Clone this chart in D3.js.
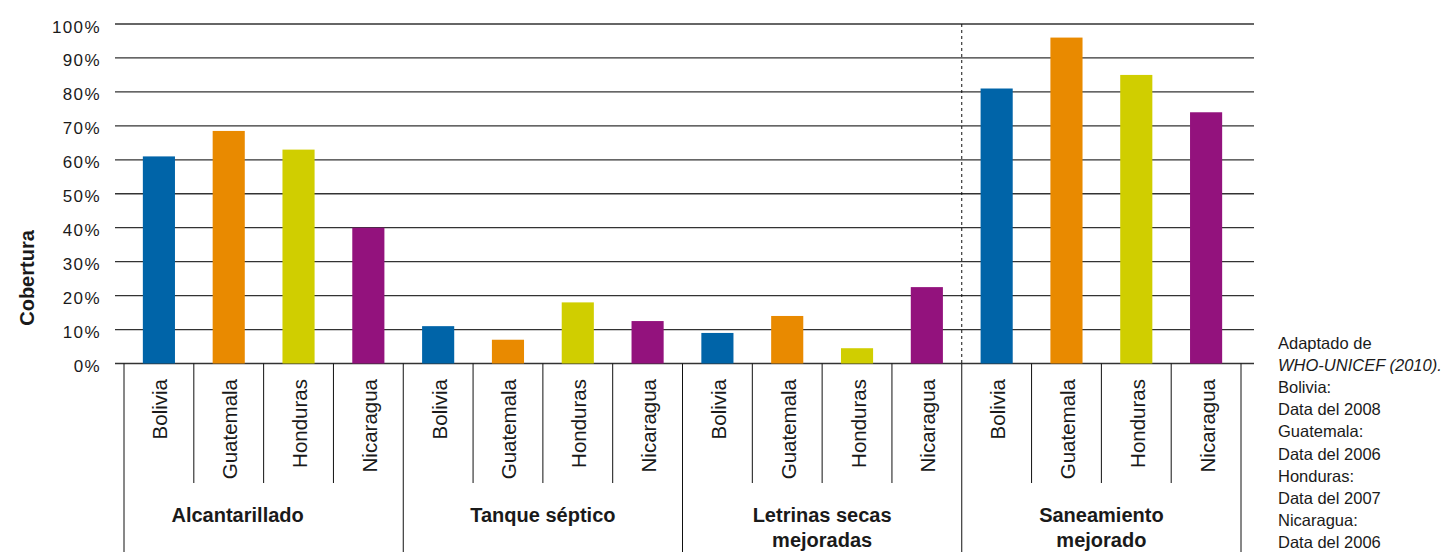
<!DOCTYPE html>
<html>
<head>
<meta charset="utf-8">
<script src="https://cdn.jsdelivr.net/npm/d3@7"></script>
<style>
  body { margin: 0; background: #fff; }
  svg { display: block; font-family: "Liberation Sans", Arial, sans-serif; }
</style>
</head>
<body>
<div id="chart"></div>
<script>
const groups = ["Alcantarillado", "Tanque séptico", "Letrinas secas mejoradas", "Saneamiento mejorado"];
const groupLines = [["Alcantarillado"], ["Tanque séptico"], ["Letrinas secas", "mejoradas"], ["Saneamiento", "mejorado"]];
const countries = ["Bolivia", "Guatemala", "Honduras", "Nicaragua"];
const bolivia = [61, 11, 9, 81];
const guatemala = [68.5, 7, 14, 96];
const honduras = [63, 18, 4.5, 85];
const nicaragua = [40, 12.5, 22.5, 74];
const yTicks = [0, 10, 20, 30, 40, 50, 60, 70, 80, 90, 100];
const noteLines = ["Adaptado de", "WHO-UNICEF (2010).", "Bolivia:", "Data del 2008", "Guatemala:", "Data del 2006", "Honduras:", "Data del 2007", "Nicaragua:", "Data del 2006"];

const colors = ["#0064a8", "#e98a00", "#d0ce00", "#93127d"];
const series = [bolivia, guatemala, honduras, nicaragua];

const W = 1441, H = 552;
const gridLeft = 115, gridRight = 1254;
const svg = d3.select("#chart").append("svg").attr("width", W).attr("height", H);

const y = d3.scaleLinear().domain([0, 100]).range([363.5, 24]);
const x0 = d3.scaleBand().domain(groups).range([124, 1241]);
const x1 = d3.scaleBand().domain(countries).range([0, x0.bandwidth()])
  .paddingInner(0.54).paddingOuter(0.27);
const color = d3.scaleOrdinal().domain(countries).range(colors);

// gridlines
svg.append("g").selectAll("line").data(yTicks).enter().append("line")
  .attr("x1", gridLeft).attr("x2", gridRight)
  .attr("y1", d => y(d)).attr("y2", d => y(d))
  .attr("stroke", "#333").attr("stroke-width", 1.3);

// y tick labels
svg.append("g").selectAll("text").data(yTicks).enter().append("text")
  .attr("x", 101).attr("y", d => y(d) + 8.5)
  .attr("text-anchor", "end").attr("font-size", 17).attr("letter-spacing", 1.4)
  .attr("fill", "#1a1a1a")
  .text(d => d + "%");

svg.append("text")
  .attr("transform", "translate(34,278) rotate(-90)")
  .attr("text-anchor", "middle").attr("font-size", 20).attr("font-weight", "bold")
  .attr("fill", "#1a1a1a").text("Cobertura");

// bars
const rows = [];
groups.forEach((g, gi) => countries.forEach((c, ci) => rows.push({ g, c, v: series[ci][gi] })));
svg.append("g").selectAll("rect").data(rows).enter().append("rect")
  .attr("x", d => x0(d.g) + x1(d.c))
  .attr("width", x1.bandwidth())
  .attr("y", d => y(d.v))
  .attr("height", d => y(0) - y(d.v))
  .attr("fill", d => color(d.c));

// dashed separator before last group
const lastX = x0(groups[3]);
svg.append("line").attr("x1", lastX).attr("x2", lastX)
  .attr("y1", y(100)).attr("y2", y(0))
  .attr("stroke", "#111").attr("stroke-width", 1).attr("stroke-dasharray", "3,3");

// axis bottom separators
const sep = svg.append("g").attr("stroke", "#111").attr("stroke-width", 1);
groups.concat([null]).forEach((g, gi) => {
  const gx = g ? x0(g) : x0.range()[1];
  sep.append("line").attr("x1", gx).attr("x2", gx).attr("y1", y(0)).attr("y2", H);
  if (g) {
    countries.slice(1).forEach(c => {
      const sx = x0(g) + x1(c) - x1.step() * x1.paddingInner() / 2;
      sep.append("line").attr("x1", sx).attr("x2", sx).attr("y1", y(0)).attr("y2", 483);
    });
  }
});

// country labels
svg.append("g").selectAll("text").data(rows).enter().append("text")
  .attr("transform", d => `translate(${x0(d.g) + x1(d.c) + x1.bandwidth() / 2 + 8.5},379) rotate(-90)`)
  .attr("text-anchor", "end").attr("font-size", 20.5).attr("fill", "#1a1a1a")
  .text(d => d.c);

// group labels (first one sits left of centre in the original)
groups.forEach((g, gi) => {
  const lines = groupLines[gi];
  const cx = x0(g) + x0.bandwidth() / 2 + (gi === 0 ? -26 : 0);
  const t = svg.append("text").attr("text-anchor", "middle")
    .attr("font-size", 20).attr("font-weight", "bold").attr("fill", "#1a1a1a");
  lines.forEach((l, li) => {
    t.append("tspan").attr("x", cx).attr("y", 522 + li * 25).text(l);
  });
});

// note
svg.append("g").selectAll("text").data(noteLines).enter().append("text")
  .attr("x", 1278).attr("y", (d, i) => 348.5 + i * 22.2)
  .attr("font-size", 16.5).attr("fill", "#1a1a1a")
  .attr("font-style", (d, i) => i === 1 ? "italic" : "normal")
  .text(d => d);
</script>
</body>
</html>
